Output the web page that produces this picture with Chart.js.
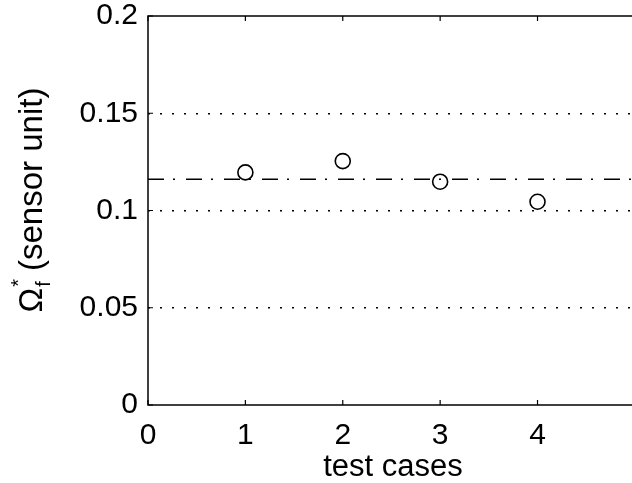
<!DOCTYPE html>
<html>
<head>
<meta charset="utf-8">
<script src="https://cdn.jsdelivr.net/npm/chart.js@4.4.1/dist/chart.umd.min.js"></script>
<style>
  html, body { margin: 0; padding: 0; background: #fff; overflow: hidden; }
  #wrap { width: 644px; height: 483px; }
</style>
</head>
<body>
<div id="wrap"><canvas id="chart" width="644" height="483"></canvas></div>
<script>
// values
const testCases = [1, 2, 3, 4];
const omegaValues = [0.1196, 0.1254, 0.1148, 0.1045];
const meanSpan = [0, 5];
const meanValue = 0.1161;
const xTicks = [0, 1, 2, 3, 4];
const yTicks = [0, 0.05, 0.1, 0.15, 0.2];
const xTitle = 'test cases';
const yTitle = ' (sensor unit)';

const FONT = '"Liberation Sans", Arial, Helvetica, sans-serif';

// frame, inward tick marks and axis titles (matlab style)
const matlabAxes = {
  id: 'matlabAxes',
  afterDatasetsDraw(chart) {
    const { ctx, chartArea: a, scales: { x, y } } = chart;
    ctx.save();
    ctx.strokeStyle = '#000';
    ctx.lineWidth = 1.5;
    ctx.setLineDash([]);
    ctx.strokeRect(a.left, a.top, a.right - a.left, a.bottom - a.top);

    ctx.lineWidth = 1.2;
    ctx.beginPath();
    xTicks.concat([5]).forEach(v => {
      const px = x.getPixelForValue(v);
      ctx.moveTo(px, a.bottom); ctx.lineTo(px, a.bottom - 5);
      ctx.moveTo(px, a.top); ctx.lineTo(px, a.top + 5);
    });
    yTicks.forEach(v => {
      const py = y.getPixelForValue(v);
      ctx.moveTo(a.left, py); ctx.lineTo(a.left + 5, py);
    });
    ctx.stroke();

    // x title
    ctx.fillStyle = '#000';
    ctx.font = '31px ' + FONT;
    ctx.textAlign = 'center';
    ctx.textBaseline = 'alphabetic';
    ctx.fillText(xTitle, 393, 476);

    // y title: Omega with subscript f and superscript *
    ctx.translate(42, 200);
    ctx.rotate(-Math.PI / 2);
    ctx.textAlign = 'left';
    const big = '33px ' + FONT, small = '20px ' + FONT;
    ctx.font = big;
    const wOmega = ctx.measureText('\u03A9').width;
    const wRest = ctx.measureText(yTitle).width;
    ctx.font = small;
    const wSub = ctx.measureText('f').width + 2;
    let cx = -(wOmega + wSub + wRest) / 2;
    ctx.font = big;
    ctx.fillText('\u03A9', cx, 0);
    cx += wOmega + 1;
    ctx.font = small;
    ctx.fillText('f', cx, 8);
    ctx.fillText('*', cx, -17);
    cx += wSub - 1;
    ctx.font = big;
    ctx.fillText(yTitle, cx, 0);
    ctx.restore();
  }
};

new Chart(document.getElementById('chart'), {
  type: 'scatter',
  data: {
    datasets: [
      {
        label: 'mean',
        type: 'line',
        data: meanSpan.map(v => ({ x: v, y: meanValue })),
        borderColor: '#000',
        borderWidth: 1.5,
        borderDash: [16, 9, 2, 11],
        pointRadius: 0,
        fill: false
      },
      {
        label: 'test cases',
        data: testCases.map((c, i) => ({ x: c, y: omegaValues[i] })),
        pointStyle: 'circle',
        pointRadius: 7.5,
        pointBorderWidth: 1.6,
        pointBorderColor: '#000',
        pointBackgroundColor: 'rgba(255,255,255,0)'
      }
    ]
  },
  options: {
    responsive: false,
    animation: false,
    layout: { padding: { top: 16, right: 2, left: 0, bottom: 0 } },
    plugins: { legend: { display: false }, tooltip: { enabled: false } },
    scales: {
      x: {
        type: 'linear',
        min: 0,
        max: 5,
        afterBuildTicks: s => { s.ticks = xTicks.map(v => ({ value: v })); },
        afterFit: s => {
          s.height = 78;
          s.paddingLeft = 0; s.paddingRight = 0;
        },
        grid: { display: false, drawTicks: false },
        border: { display: false },
        ticks: { color: '#000', font: { family: FONT, size: 30 }, padding: 13, maxRotation: 0,
                 callback: v => String(v) }
      },
      y: {
        min: 0,
        max: 0.2,
        afterBuildTicks: s => { s.ticks = yTicks.map(v => ({ value: v })); },
        afterFit: s => {
          s.width = 148;
          s.paddingTop = 0; s.paddingBottom = 0;
        },
        grid: {
          drawTicks: false,
          color: ctx => (ctx.tick && (ctx.tick.value === 0 || ctx.tick.value === 0.2)) ? 'rgba(0,0,0,0)' : '#000',
          lineWidth: 1.5
        },
        border: { display: false, dash: [2, 10] },
        ticks: { color: '#000', font: { family: FONT, size: 30 }, padding: 10,
                 callback: v => String(v) }
      }
    }
  },
  plugins: [matlabAxes]
});
</script>
</body>
</html>
